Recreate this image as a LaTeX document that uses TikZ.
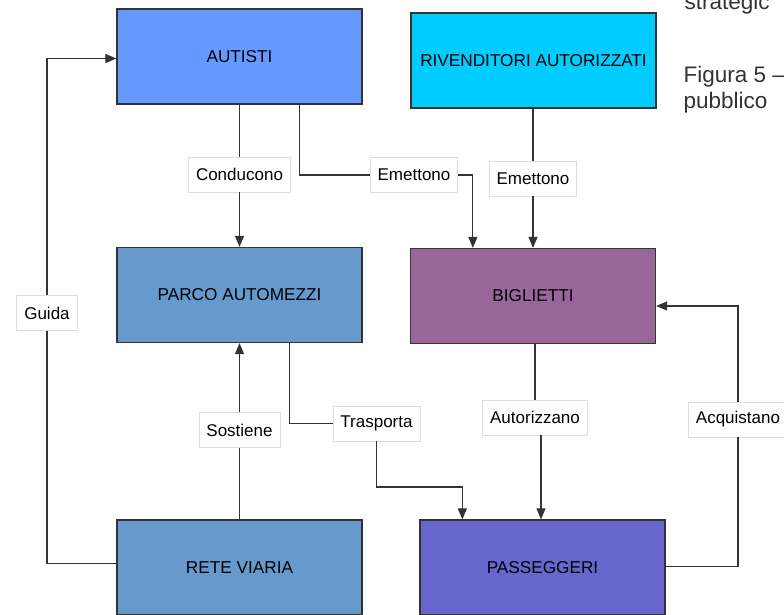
\documentclass[tikz,border=0pt]{standalone}
\usepackage{fontspec}
\setmainfont{Liberation Sans}
\usetikzlibrary{arrows.meta}

\definecolor{cAutisti}{HTML}{6699FF}
\definecolor{cRiv}{HTML}{00CCFF}
\definecolor{cSteel}{HTML}{6699CC}
\definecolor{cBigl}{HTML}{996699}
\definecolor{cPass}{HTML}{6666CC}
\definecolor{cLine}{HTML}{333333}
\definecolor{cLabelEdge}{HTML}{DDDDDD}

\tikzset{
  entity/.style={draw=cLine, line width=1.3pt, minimum width=245pt, minimum height=95pt,
    inner sep=0pt, font=\fontsize{17.2}{20}\selectfont},
  relabel/.style={draw=cLabelEdge, line width=0.8pt, fill=white, minimum height=35pt,
    inner xsep=7.5pt, inner ysep=0pt, font=\fontsize{17}{20}\selectfont},
  link/.style={draw=cLine, line width=1.2pt},
  arr/.style={link, -{Triangle[length=11pt,width=9pt]}},
  side/.style={anchor=base west, font=\fontsize{22.5}{27}\selectfont, text=black!80}
}

\begin{document}
\begin{tikzpicture}[x=1pt, y=-1pt]
\useasboundingbox (0,0) rectangle (784,615);

% entity boxes
\node[entity, fill=cAutisti] (autisti) at (239.5,56.5) {AUTISTI};
\node[entity, fill=cRiv] (riv) at (533.5,60.5) {RIVENDITORI AUTORIZZATI};
\node[entity, fill=cSteel] (parco) at (239.5,295) {PARCO AUTOMEZZI};
\node[entity, fill=cBigl] (bigl) at (533,296) {BIGLIETTI};
\node[entity, fill=cSteel] (rete) at (239.5,567.5) {RETE VIARIA};
\node[entity, fill=cPass] (pass) at (542.5,567.5) {PASSEGGERI};

% relation labels
\node[relabel] (conducono) at (239.5,174.5) {Conducono};
\node[relabel] (emA) at (414,175) {Emettono};
\node[relabel] (emB) at (533,178.5) {Emettono};
\node[relabel] (guida) at (47,313) {Guida};
\node[relabel] (sostiene) at (239.5,430) {Sostiene};
\node[relabel] (trasporta) at (376.5,423.5) {Trasporta};
\node[relabel] (autorizzano) at (535,417.5) {Autorizzano};
\node[relabel] (acquistano) at (738,419.5) {Acquistano};

\coordinate (tbend) at (376.5,487);

% connectors
\draw[link] (autisti.south) -- (conducono.north);
\draw[arr] (conducono.south) -- (parco.north);

\draw[link] ([xshift=-63pt]autisti.south east) |- (emA.west);
\draw[arr] (emA.east) -| ([xshift=63pt]bigl.north west);

\draw[link] (riv.south -| emB.north) -- (emB.north);
\draw[arr] (emB.south) -- (bigl.north -| emB.south);

\draw[link] ([xshift=-73pt]parco.south east) |- (trasporta.west);
\draw[arr] (trasporta.south) -- (trasporta.south |- tbend) -| ([xshift=43pt]pass.north west);

\draw[link] (bigl.south -| autorizzano.north) -- (autorizzano.north);
\draw[arr] ([xshift=6pt]autorizzano.south) -- ([xshift=6pt]autorizzano.south |- pass.north);

\draw[link] (rete.north) -- (sostiene.south);
\draw[arr] (sostiene.north) -- (parco.south);

\draw[link] ([yshift=4pt]rete.west) -| (guida.south);
\draw[arr] (guida.north) |- ([yshift=-2pt]autisti.west);

\draw[link] ([yshift=1pt]pass.east) -| (acquistano.south);
\draw[arr] (acquistano.north) |- ([yshift=-10pt]bigl.east);

% running text at the right edge
\node[side] (s1) at (681,10) {strategic};
\node[side] (s2) at (680,83) {Figura 5 –};
\node[side] (s3) at (680,109) {pubblico};
\end{tikzpicture}
\end{document}
